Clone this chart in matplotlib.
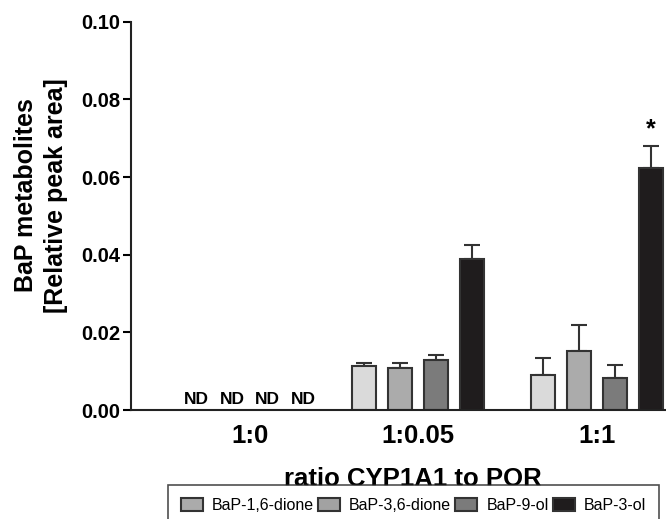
import matplotlib.pyplot as plt
from matplotlib.patches import Patch
import numpy as np

plt.rcParams['font.family'] = ['Liberation Sans', 'DejaVu Sans']

# CYP1A1:POR ratios and BaP metabolite peak areas (mean, upper SD)
ratios = ['1:0', '1:0.05', '1:1']
metabolites = ['BaP-1,6-dione', 'BaP-3,6-dione', 'BaP-9-ol', 'BaP-3-ol']
means = {
    'BaP-1,6-dione': [0.0, 0.0113, 0.0090],
    'BaP-3,6-dione': [0.0, 0.0108, 0.0152],
    'BaP-9-ol':      [0.0, 0.0129, 0.0082],
    'BaP-3-ol':      [0.0, 0.0389, 0.0624],
}
errors = {
    'BaP-1,6-dione': [0.0, 0.0008, 0.0044],
    'BaP-3,6-dione': [0.0, 0.0013, 0.0067],
    'BaP-9-ol':      [0.0, 0.0013, 0.0034],
    'BaP-3-ol':      [0.0, 0.0036, 0.0056],
}
detected = [False, True, True]

colors = ['#dadada', '#ababab', '#7b7b7b', '#1f1c1d']
legend_colors = ['#ababab', '#a2a2a2', '#7b7b7b', '#1f1c1d']
edge = '#333333'

fig = plt.figure(figsize=(6.66, 5.19), dpi=100)
ax = fig.add_axes([0.197, 0.21, 0.803, 0.748])

centers = np.array([0.06, 1.0, 2.0])
offsets = [-0.3, -0.1, 0.1, 0.3]
width = 0.134

for k, m in enumerate(metabolites):
    x = centers + offsets[k]
    vals = np.array(means[m])
    errs = np.array(errors[m])
    mask = np.array(detected)
    ax.bar(x[mask], vals[mask], width, color=colors[k], edgecolor=edge,
           linewidth=1.5, zorder=2)
    ax.errorbar(x[mask], vals[mask], yerr=[np.zeros(mask.sum()), errs[mask]],
                fmt='none', ecolor=edge, elinewidth=1.5, capsize=6,
                capthick=1.5, zorder=1)
    # not detected at 1:0
    for i in np.where(~mask)[0]:
        ax.text(x[i], 0.0028, 'ND', ha='center', va='center',
                fontsize=12.5, fontweight='bold')

# significance mark over BaP-3-ol at 1:1
ax.text(centers[2] + offsets[3], means['BaP-3-ol'][2] + errors['BaP-3-ol'][2] + 0.0012,
        '*', ha='center', va='bottom', fontsize=18, fontweight='bold')

ax.set_xlim(-0.603, 2.385)
ax.set_ylim(0, 0.10)
ax.set_yticks([0.0, 0.02, 0.04, 0.06, 0.08, 0.10])
ax.set_yticklabels(['0.00', '0.02', '0.04', '0.06', '0.08', '0.10'],
                   fontsize=14.5, fontweight='bold')
ax.set_xticks(centers)
ax.set_xticklabels(ratios, fontsize=18.5, fontweight='bold')
ax.tick_params(axis='x', length=0, pad=10)
ax.tick_params(axis='y', length=6, width=1.5, pad=2)
for s in ['top', 'right']:
    ax.spines[s].set_visible(False)
for s in ['left', 'bottom']:
    ax.spines[s].set_linewidth(1.5)
    ax.spines[s].set_color('#222222')

ax.set_xlabel('ratio CYP1A1 to POR', fontsize=18.5, fontweight='bold')
ax.xaxis.set_label_coords(0.527, -0.146)
fig.text(0.062, 0.624, 'BaP metabolites\n[Relative peak area]', rotation=90,
         ha='center', va='center', fontsize=18, fontweight='bold',
         multialignment='center', linespacing=1.3)

handles = [Patch(facecolor=c, edgecolor=edge, linewidth=1.5) for c in legend_colors]
leg = fig.legend(handles, metabolites, loc='upper left', bbox_to_anchor=(0.252, 0.066),
                 ncol=4, fontsize=11.5, frameon=True, fancybox=False,
                 edgecolor='#222222', handlelength=1.4, handleheight=0.9,
                 handletextpad=0.55, columnspacing=0.25, borderpad=0.8,
                 borderaxespad=0)
leg.get_frame().set_linewidth(1.2)

fig.savefig('out.png', dpi=100)
